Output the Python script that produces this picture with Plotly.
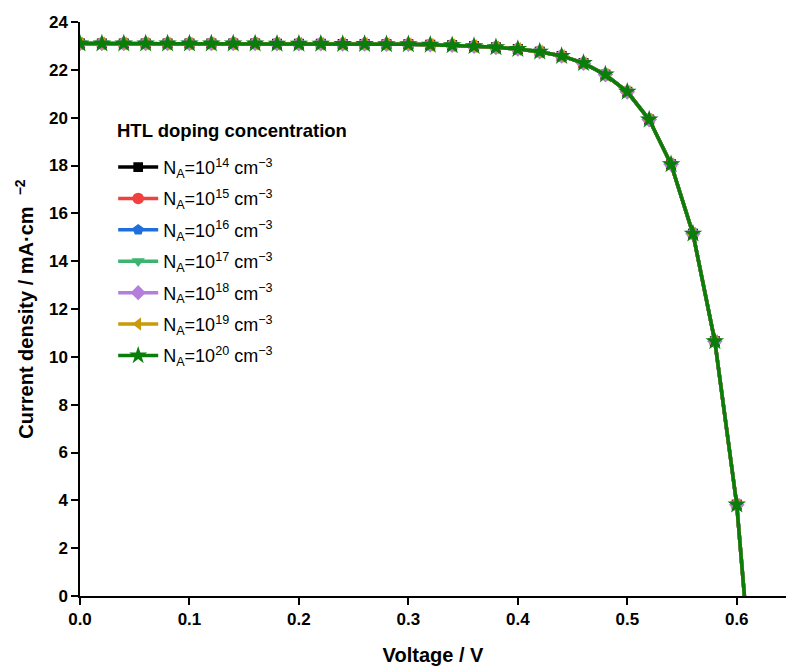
import plotly.graph_objects as go

voltage = [0.00, 0.02, 0.04, 0.06, 0.08, 0.10, 0.12, 0.14, 0.16, 0.18, 0.20,
           0.22, 0.24, 0.26, 0.28, 0.30, 0.32, 0.34, 0.36, 0.38, 0.40, 0.42,
           0.44, 0.46, 0.48, 0.50, 0.52, 0.54, 0.56, 0.58, 0.60, 0.607]
current = [23.10, 23.10, 23.10, 23.10, 23.10, 23.10, 23.10, 23.10, 23.10, 23.09, 23.09,
           23.09, 23.08, 23.08, 23.07, 23.07, 23.05, 23.03, 22.99, 22.94, 22.87, 22.76,
           22.58, 22.28, 21.80, 21.08, 19.92, 18.05, 15.15, 10.65, 3.82, 0.0]

exponents = ["14", "15", "16", "17", "18", "19", "20"]
colors = ["#000000", "#f0413f", "#1e6fdc", "#3cb371", "#b47fdc", "#c99a0c", "#0a7d0a"]
symbols = ["square", "circle", "pentagon", "triangle-down", "diamond", "triangle-left", "star"]
msizes = [10, 12, 12, 12, 12, 12, 14]
legend_title = "HTL doping concentration"

fig = go.Figure()
for exp, col, sym, ms in zip(exponents, colors, symbols, msizes):
    sizes = [ms] * (len(voltage) - 1) + [0]
    fig.add_trace(go.Scatter(
        x=voltage, y=current, mode="lines+markers",
        name=f"N<sub>A</sub>=10<sup>{exp}</sup> cm<sup>−3</sup>",
        legendgroup=exp,
        line=dict(color=col, width=3.5),
        marker=dict(symbol=sym, size=sizes, color=col, opacity=1, line=dict(width=0)),
    ))

fig.add_annotation(
    text=f"<b>{legend_title}</b>", xref="paper", yref="paper",
    x=(115 - 80) / 706, y=1 - (130 - 22) / 574, xanchor="left", yanchor="middle",
    showarrow=False, font=dict(size=18.5),
)

fig.update_layout(
    width=786, height=666,
    margin=dict(l=80, r=0, t=22, b=70),
    plot_bgcolor="white", paper_bgcolor="white",
    font=dict(family="Liberation Sans, Arial, sans-serif", color="black", size=17),
    showlegend=True,
    legend=dict(
        x=0.047, y=0.779, xanchor="left", yanchor="top",
        bgcolor="rgba(0,0,0,0)", font=dict(size=18),
        itemwidth=40, tracegroupgap=5,
    ),
    xaxis=dict(
        range=[0, 0.645], tickvals=[0, 0.1, 0.2, 0.3, 0.4, 0.5, 0.6],
        ticktext=["0.0", "0.1", "0.2", "0.3", "0.4", "0.5", "0.6"],
        showline=True, linecolor="black", linewidth=1.5,
        ticks="outside", ticklen=7, tickwidth=1.5, tickcolor="black",
        showgrid=False, zeroline=False,
        tickfont=dict(size=17, family="Liberation Sans, Arial", weight="bold"),
        title=dict(text="<b>Voltage / V</b>", font=dict(size=20), standoff=20),
    ),
    yaxis=dict(
        range=[0, 24], tickvals=list(range(0, 25, 2)),
        showline=True, linecolor="black", linewidth=1.5,
        ticks="outside", ticklen=7, tickwidth=1.5, tickcolor="black",
        showgrid=False, zeroline=False,
        tickfont=dict(size=17, family="Liberation Sans, Arial", weight="bold"),
        title=dict(text="<b>Current density / mA·cm  <sup>−2</sup></b>", font=dict(size=20), standoff=10),
    ),
)

fig.write_html("out.html")
